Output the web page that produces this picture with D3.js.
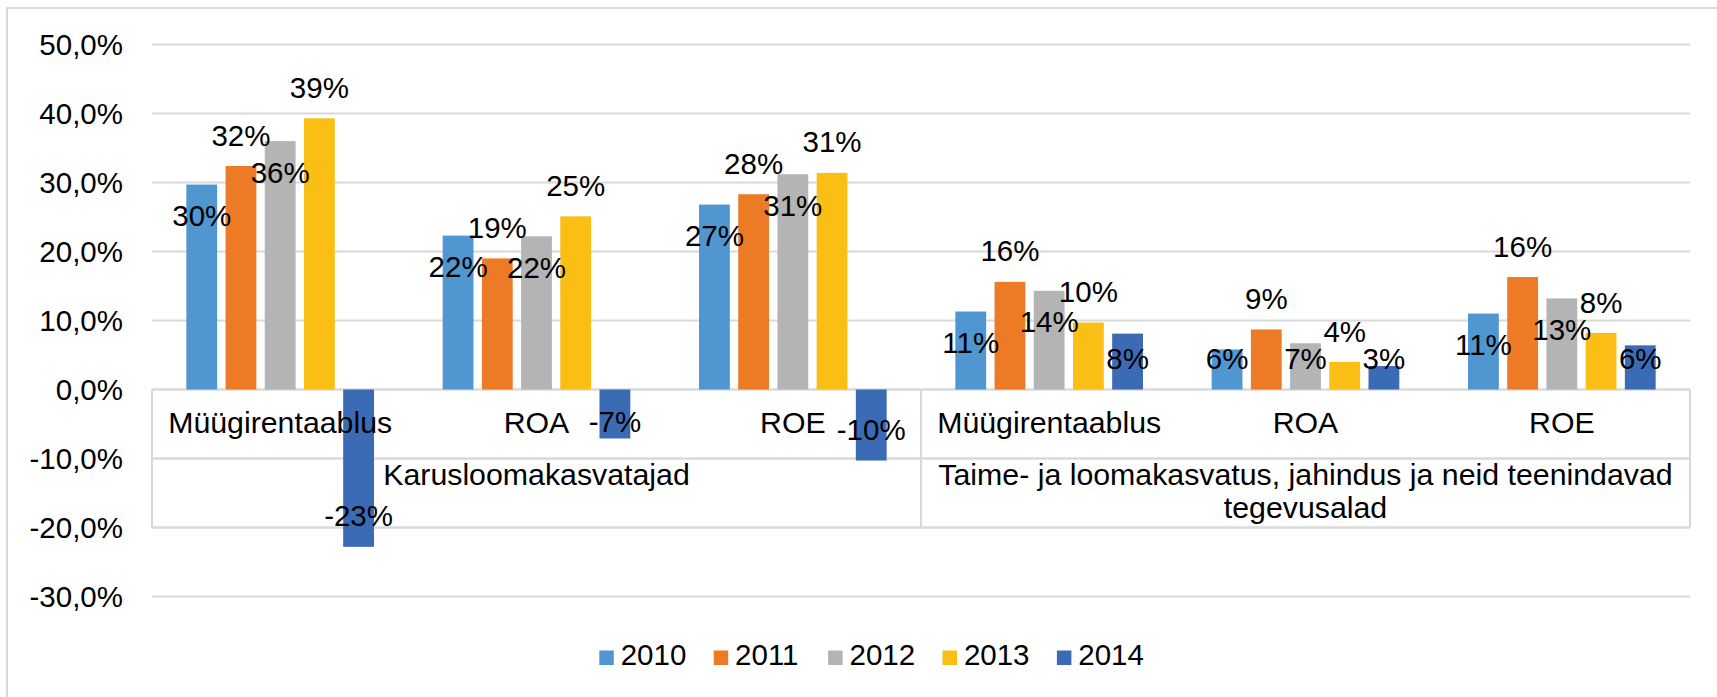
<!DOCTYPE html>
<html>
<head>
<meta charset="utf-8">
<script src="https://cdn.jsdelivr.net/npm/d3@7/dist/d3.min.js"></script>
<style>
  body { margin: 0; background: #fff; }
  svg { display: block; font-family: "Liberation Sans", Arial, sans-serif; }
</style>
</head>
<body>
<svg id="chart" width="1717" height="697"></svg>
<script>
// data
const years = ["2010", "2011", "2012", "2013", "2014"];
const categories = ["Müügirentaablus", "ROA", "ROE", "Müügirentaablus", "ROA", "ROE"];
const categoryGroup = [0, 0, 0, 1, 1, 1];
const groups = ["Karusloomakasvatajad", "Taime- ja loomakasvatus, jahindus ja neid teenindavad tegevusalad"];
const values2010 = [0.297, 0.223, 0.268, 0.113, 0.058, 0.110];
const values2011 = [0.324, 0.190, 0.283, 0.156, 0.087, 0.163];
const values2012 = [0.360, 0.222, 0.312, 0.143, 0.067, 0.132];
const values2013 = [0.393, 0.251, 0.314, 0.097, 0.040, 0.082];
const values2014 = [-0.228, -0.071, -0.103, 0.081, 0.034, 0.064];
const yTicks = [-0.3, -0.2, -0.1, 0, 0.1, 0.2, 0.3, 0.4, 0.5];
const colors = ["#5096d1", "#ed7b25", "#b4b4b4", "#fbbe15", "#3c6bb6"];

const series = [values2010, values2011, values2012, values2013, values2014];

const fontSize = 29.5;
const catFontSize = 30.3;
const gridColor = "#d9d9d9";
const plotLeft = 152, plotRight = 1690;
const rowH = 69;

const locale = d3.formatLocale({decimal: ",", thousands: "\u00a0", grouping: [3], currency: ["", " €"], minus: "-", percent: "%"});
const tickFmt = locale.format(".1%");
const labelFmt = locale.format(".0%");

const svg = d3.select("#chart");

const x0 = d3.scaleBand().domain(d3.range(categories.length)).range([plotLeft, plotRight]);
const x1 = d3.scaleBand().domain(years).range([0, x0.bandwidth()]).paddingInner(0.214).paddingOuter(0.876);
const y = d3.scaleLinear().domain([-0.3, 0.5]).range([596.5, 44.5]);
const y0 = y(0);

// chart border (cut off at right and bottom)
svg.append("rect").attr("x", 7).attr("y", 8).attr("width", 1730).attr("height", 720)
  .attr("fill", "none").attr("stroke", gridColor).attr("stroke-width", 2);

// gridlines
svg.append("g").selectAll("line").data(yTicks).join("line")
  .attr("x1", plotLeft).attr("x2", plotRight)
  .attr("y1", d => y(d)).attr("y2", d => y(d))
  .attr("stroke", gridColor).attr("stroke-width", 2);

// y tick labels
svg.append("g").selectAll("text").data(yTicks).join("text")
  .attr("x", 123).attr("y", d => y(d)).attr("dy", "0.36em")
  .attr("text-anchor", "end").attr("font-size", fontSize).attr("fill", "#000")
  .text(d => tickFmt(d));

// category axis box
const box = svg.append("g").attr("stroke", gridColor).attr("stroke-width", 2);
[0, 1, 2].forEach(r => {
  box.append("line").attr("x1", plotLeft).attr("x2", plotRight)
    .attr("y1", y0 + r * rowH).attr("y2", y0 + r * rowH);
});
const groupEdges = [plotLeft].concat(groups.map((g, gi) => {
  const last = categoryGroup.lastIndexOf(gi);
  return x0(last) + x0.bandwidth();
}));
groupEdges.forEach(xx => {
  box.append("line").attr("x1", xx).attr("x2", xx).attr("y1", y0).attr("y2", y0 + 2 * rowH);
});

// bars
series.forEach((vals, j) => {
  svg.append("g").attr("fill", colors[j]).selectAll("rect").data(vals).join("rect")
    .attr("x", (d, i) => x0(i) + x1(years[j]))
    .attr("width", x1.bandwidth())
    .attr("y", d => y(Math.max(0, d)))
    .attr("height", d => Math.abs(y(d) - y0));
});

// data labels: 2011/2013 outside end, the others inside end
series.forEach((vals, j) => {
  svg.append("g").selectAll("text").data(vals).join("text")
    .attr("x", (d, i) => x0(i) + x1(years[j]) + x1.bandwidth() / 2)
    .attr("y", d => {
      if (j % 2 === 1) return d >= 0 ? y(d) - 31 : y(d) + 31;
      return d >= 0 ? Math.min(y(d) + 31, y0 - 31.5) : Math.max(y(d) - 31, y0 + 31.5);
    })
    .attr("dy", "0.36em").attr("text-anchor", "middle")
    .attr("font-size", fontSize).attr("fill", "#000")
    .text(d => labelFmt(d));
});

// category labels, level 1
svg.append("g").selectAll("text").data(categories).join("text")
  .attr("x", (d, i) => x0(i) + x0.bandwidth() / 2)
  .attr("y", y0 + 43.2)
  .attr("text-anchor", "middle").attr("font-size", catFontSize).attr("fill", "#000")
  .text(d => d);

// category labels, level 2 (wrapped)
groups.forEach((g, gi) => {
  const first = categoryGroup.indexOf(gi), last = categoryGroup.lastIndexOf(gi);
  const gx0 = x0(first), gx1 = x0(last) + x0.bandwidth();
  const t = svg.append("text").attr("x", (gx0 + gx1) / 2).attr("y", y0 + rowH + 26)
    .attr("text-anchor", "middle").attr("font-size", catFontSize).attr("fill", "#000");
  const words = g.split(" ");
  let line = [];
  let ts = t.append("tspan").attr("x", (gx0 + gx1) / 2).attr("dy", 0);
  words.forEach(w => {
    line.push(w);
    ts.text(line.join(" "));
    if (ts.node().getComputedTextLength() > gx1 - gx0 - 10 && line.length > 1) {
      line.pop();
      ts.text(line.join(" "));
      line = [w];
      ts = t.append("tspan").attr("x", (gx0 + gx1) / 2).attr("dy", 33).text(w);
    }
  });
});

// legend
const legendStart = 599.3, legendStep = 114.4;
const legend = svg.append("g").selectAll("g").data(years).join("g")
  .attr("transform", (d, j) => `translate(${legendStart + j * legendStep},650.5)`);
legend.append("rect").attr("width", 14.5).attr("height", 14.5).attr("fill", (d, j) => colors[j]);
legend.append("text").attr("x", 21.4).attr("y", 14.5)
  .attr("font-size", fontSize).attr("fill", "#000").text(d => d);
</script>
</body>
</html>
